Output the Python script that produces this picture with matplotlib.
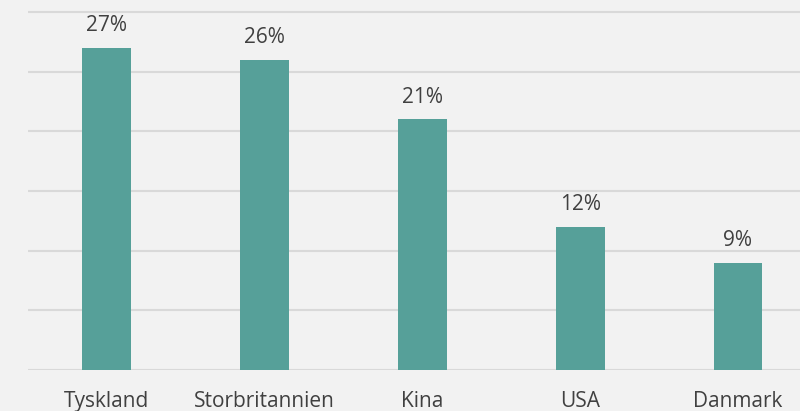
import matplotlib.pyplot as plt

categories = ["Tyskland", "Storbritannien", "Kina", "USA", "Danmark"]
values = [27, 26, 21, 12, 9]
labels = ["27%", "26%", "21%", "12%", "9%"]

plt.rcParams["font.family"] = ["Open Sans", "DejaVu Sans"]

fig = plt.figure(figsize=(8, 4.11), dpi=100, facecolor="#f2f2f2")
ax = fig.add_axes([28 / 800, 41 / 411, 1 - 28 / 800, 370 / 411])
ax.set_facecolor("#f2f2f2")

x = range(len(categories))
ax.bar(x, values, width=0.31, color="#56a099", zorder=3)

# etiquettes de valeur au-dessus des barres
for xi, v, lab in zip(x, values, labels):
    ax.text(xi, v + 1.4, lab, ha="center", va="baseline", fontsize=15, color="#404040")

# noms des pays sous l'axe (coupés en bas comme dans l'original)
for xi, cat in zip(x, categories):
    ax.annotate(cat, xy=(xi, 0), xycoords=("data", "axes fraction"),
                xytext=(0, -37), textcoords="offset pixels",
                ha="center", va="baseline", fontsize=15, color="#404040",
                annotation_clip=False)

ax.set_xlim(-0.5, 4.393)
ax.set_ylim(0, 31)
ax.set_yticks(range(0, 31, 5))
ax.yaxis.grid(True, color="#d9d9d9", linewidth=1.5, zorder=0)
ax.tick_params(axis="y", left=False, labelleft=False)
ax.set_xticks([])
for s in ax.spines.values():
    s.set_visible(False)

fig.savefig("out.png", dpi=100, facecolor=fig.get_facecolor())
